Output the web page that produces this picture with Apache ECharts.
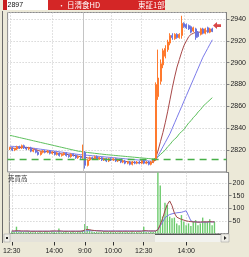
<!DOCTYPE html>
<html><head><meta charset="utf-8">
<script src="https://cdn.jsdelivr.net/npm/echarts@6/dist/echarts.min.js"></script>
<style>html,body{margin:0;padding:0;background:#ECE9D8;overflow:hidden}#c{width:249px;height:257px}</style>
</head><body><div id="c"></div><script>
// ---- axis categories (5-minute slots) ----
const tickIdx  = [1, 19, 32, 44, 57, 75];
const tickText = ['12:30', '14:00', '9:00', '10:00', '12:30', '14:00'];
const dayBreakIdx = 32;
const sessions = [['d1', 12*60+30, 15*60], ['d2', 9*60, 11*60], ['d2', 12*60+30, 15*60]];
const categories = ['p0'];
sessions.forEach(s => { for (let m = s[1]; m <= s[2]; m += 5) categories.push(s[0] + ' ' + Math.floor(m/60) + ':' + String(m%60).padStart(2,'0')); });
while (categories.length < 94) categories.push('p' + categories.length);

// ---- price candles, index 1..87 ----
const opens = [2821,2822,2820,2821,2823,2822,2824,2822,2821,2822,2819,2820,2818,2816,2818,2819,2818,2819,2817,2818,2816,2817,2815,2816,2817,2815,2814,2816,2815,2813,2814,
 2813,2818,2806,2811,2813,2812,2814,2812,2813,2811,2812,2810,2812,2811,2812,2810,2811,2809,2810,2808,2809,2807,2809,2808,2809,
 2808,2810,2808,2809,2807,2809,2811,2869,2883,2898,2906,2912,2918,2925,2922,2926,2923,2925,2936,2935,2934,2933,2929,2931,2928,2926,2931,2927,2932,2928,2931];
const closes = [2822,2820,2821,2823,2822,2824,2822,2821,2822,2819,2820,2818,2816,2818,2819,2818,2819,2817,2818,2816,2817,2815,2816,2817,2815,2814,2816,2815,2813,2814,2813,
 2818,2806,2811,2813,2812,2814,2812,2813,2811,2812,2810,2812,2811,2812,2810,2811,2809,2810,2808,2809,2807,2809,2808,2809,2808,
 2810,2808,2809,2807,2809,2811,2880,2886,2899,2911,2913,2919,2925,2923,2926,2923,2926,2936,2933,2932,2931,2928,2932,2923,2924,2931,2927,2931,2928,2931,2929];
const lows = [2820,2819,2819,2820,2821,2821,2821,2820,2820,2818,2818,2817,2815,2815,2817,2817,2817,2816,2816,2815,2815,2814,2814,2815,2814,2813,2813,2814,2812,2812,2812,
 2812,2803,2805,2810,2811,2811,2811,2811,2810,2810,2809,2809,2810,2810,2809,2809,2808,2808,2807,2807,2806,2806,2807,2807,2807,
 2807,2807,2807,2806,2806,2808,2810,2866,2880,2895,2904,2910,2916,2921,2921,2922,2922,2922,2932,2931,2930,2927,2928,2921,2923,2925,2926,2926,2927,2927,2928];
const highs = [2823,2823,2822,2824,2824,2825,2825,2823,2823,2823,2821,2821,2819,2819,2820,2820,2820,2820,2819,2819,2818,2818,2817,2818,2818,2816,2817,2817,2816,2815,2815,
 2825,2819,2812,2814,2814,2815,2815,2814,2814,2813,2813,2813,2813,2813,2813,2812,2812,2811,2811,2810,2810,2810,2810,2810,2810,
 2811,2811,2810,2810,2810,2812,2882,2912,2903,2913,2916,2921,2927,2927,2927,2927,2927,2943,2937,2936,2935,2934,2933,2932,2929,2932,2932,2932,2933,2932,2932];

// ---- moving-average lines, index 1..87 ----
const maShort = [2822,2821.8,2821.6,2821.7,2822,2822.4,2822.5,2822.3,2822,2821.5,2821,2820.4,2819.6,2819,2818.8,2818.6,2818.5,2818.3,2818,2817.6,2817.2,2816.8,2816.4,2816.3,2816.2,2815.7,2815.3,2815.2,2814.8,2814.4,2814,
 2814.2,2813.5,2812.8,2812.5,2812.4,2812.5,2812.6,2812.5,2812.3,2812,2811.6,2811.4,2811.3,2811.2,2811,2810.7,2810.3,2810,2809.6,2809.3,2809,2808.8,2808.7,2808.6,2808.5,
 2808.6,2808.6,2808.5,2808.4,2808.5,2809,2813,2820,2828,2836,2845,2855,2866,2877,2887,2896,2903,2910,2916,2920,2924,2926,2927,2928,2928,2928,2929,2929,2929,2929,2929];
const maMid = [2823.5,2823.4,2823.3,2823.2,2823,2822.8,2822.6,2822.4,2822.2,2822,2821.7,2821.4,2821.1,2820.8,2820.5,2820.2,2819.9,2819.6,2819.3,2819,2818.7,2818.4,2818.1,2817.8,2817.5,2817.2,2816.9,2816.6,2816.3,2816,2815.8,
 2815.6,2815.4,2815.2,2815,2814.8,2814.6,2814.4,2814.2,2814,2813.8,2813.6,2813.4,2813.2,2813,2812.8,2812.6,2812.4,2812.2,2812,2811.8,2811.6,2811.4,2811.2,2811,2810.8,
 2810.6,2810.4,2810.2,2810,2809.8,2809.8,2811,2815,2819,2823,2827,2831,2835,2840,2845,2850,2855,2860,2865,2870,2875,2880,2885,2890,2895,2900,2905,2909,2913,2917,2921];
const maLong = [2833.5,2833,2832.5,2832,2831.5,2831,2830.5,2830,2829.5,2829,2828.5,2828,2827.5,2827,2826.5,2826,2825.5,2825,2824.5,2824,2823.5,2823,2822.5,2822,2821.5,2821,2820.5,2820,2819.5,2819,2818.7,
 2818.3,2818,2817.8,2817.5,2817.3,2817,2816.8,2816.5,2816.3,2816,2815.8,2815.6,2815.4,2815.2,2815,2814.8,2814.6,2814.4,2814.2,2814,2813.8,2813.6,2813.4,2813.2,2813,
 2812.8,2812.6,2812.4,2812.2,2812,2812,2812.5,2814,2816,2818,2820,2823,2825,2828,2830,2832,2835,2837,2839,2842,2845,2847,2850,2852,2855,2857,2860,2862,2864,2866,2868];
const prevClose = 2811.5;
const lastPrice = 2934;
const lastPriceIdx = 89;

// ---- volume, index 1..87 ----
const volume = [8,6,27,7,6,6,5,8,6,5,7,5,6,5,9,6,5,8,6,5,20,5,6,8,5,6,7,5,8,6,12,
 38,30,15,8,6,7,5,6,8,5,6,7,5,6,5,7,6,5,6,5,7,5,6,5,6,
 27,6,5,7,6,10,300,190,67,122,113,67,60,63,40,33,73,47,33,40,30,47,53,33,40,63,47,47,56,33,47];
const volMaShort = [10,10,11,11,10,10,10,10,9,9,9,9,9,9,9,9,9,10,10,10,10,10,9,9,9,9,9,9,9,9,10,
 14,16,15,13,12,11,10,10,9,9,9,9,9,9,9,9,9,9,9,9,9,9,9,9,9,
 11,11,10,10,10,10,15,35,60,90,115,129,110,81,65,60,56,53,50,48,47,46,46,45,45,46,46,46,47,46,46];
const volMaLong = [9,9,9,9,9,9,9,9,9,9,9,9,9,9,9,9,9,9,9,9,9,9,9,9,9,9,9,9,9,9,9,
 10,11,11,11,11,11,11,11,10,10,10,10,10,10,10,10,10,10,10,10,10,10,10,10,10,
 10,10,10,10,10,10,15,30,45,62,70,75,78,80,82,83,84,87,90,70,50,47,46,45,45,45,45,45,46,46,46];

function pad(arr){ const out=['-']; arr.forEach(v=>out.push(v)); while(out.length<94) out.push('-'); return out; }
const candleData = ['-'];
for (let i = 0; i < opens.length; i++) candleData.push([opens[i], closes[i], lows[i], highs[i]]);
while (candleData.length < 94) candleData.push('-');

const FONT = 'Liberation Sans';
const gridLine = {show:true, lineStyle:{color:'#C4C4C4', type:[1,2], width:1}};
function xAxisCfg(gi, showLabels){
  return {
    type:'category', gridIndex:gi, data:categories, boundaryGap:false,
    axisLine:{show:false},
    axisTick:{show:showLabels, interval:(i)=>tickIdx.includes(i), length:12, lineStyle:{color:'#333'}},
    axisLabel:{show:showLabels, interval:(i)=>tickIdx.includes(i), margin:14, fontSize:7, fontFamily:FONT, color:'#222',
      formatter:(v,i)=>{const k=tickIdx.indexOf(i); return k>=0?tickText[k]:'';}},
    splitLine:{show:true, interval:(i)=>tickIdx.includes(i) && i!==dayBreakIdx, lineStyle:{color:'#C4C4C4', type:[1,2]}}
  };
}
function dayLine(){ return {silent:true, symbol:'none', label:{show:false}, animation:false,
  itemStyle:{color:'#C4C4C4'}, lineStyle:{color:'#C4C4C4', type:'solid', width:1, opacity:1}, emphasis:{disabled:true},
  data:[{xAxis:dayBreakIdx, lineStyle:{color:'#C4C4C4'}}]}; }

const chart = echarts.init(document.getElementById('c'), null, {renderer:'canvas'});
chart.setOption({
  animation:false,
  backgroundColor:'#ECE9D8',
  grid:[
    {left:7.6, top:12.5, width:221, height:159.4, show:true, backgroundColor:'#fff', borderColor:'#8C8C8C', borderWidth:1},
    {left:7.6, top:172.5, width:221, height:61, show:true, backgroundColor:'#fff', borderColor:'#8C8C8C', borderWidth:1}
  ],
  xAxis:[xAxisCfg(0,false), xAxisCfg(1,true)],
  yAxis:[
    {type:'value', gridIndex:0, position:'right', min:2800, max:2946, interval:20,
     axisLine:{show:true, lineStyle:{color:'#808080'}}, axisTick:{show:true, length:3, lineStyle:{color:'#808080'}},
     axisLabel:{fontSize:7, fontFamily:FONT, color:'#222', margin:4, showMinLabel:false, showMaxLabel:false, formatter:(v)=>String(v)},
     splitLine:gridLine},
    {type:'value', gridIndex:1, position:'right', min:0, max:241.6, interval:50,
     axisLine:{show:true, lineStyle:{color:'#808080'}}, axisTick:{show:true, length:3, lineStyle:{color:'#808080'}},
     axisLabel:{fontSize:7, fontFamily:FONT, color:'#222', margin:4, showMinLabel:false, showMaxLabel:false, formatter:(v)=>String(v)},
     splitLine:gridLine}
  ],
  series:[
    {type:'line', xAxisIndex:0, yAxisIndex:0, data:pad(maLong), symbol:'none', lineStyle:{color:'#5DC05D', width:1}, z:3},
    {type:'line', xAxisIndex:0, yAxisIndex:0, data:pad(maMid), symbol:'none', lineStyle:{color:'#7B7BEA', width:1}, markLine:dayLine(), z:3},
    {type:'line', xAxisIndex:0, yAxisIndex:0, data:pad(maShort), symbol:'none', lineStyle:{color:'#A84848', width:1}, z:3},
    {type:'candlestick', xAxisIndex:0, yAxisIndex:0, data:candleData, barWidth:1.5,
     itemStyle:{color:'#FF7A2E', color0:'#6A74DE', borderColor:'#FF7A2E', borderColor0:'#6A74DE', borderWidth:1}, z:4,
     markLine:{silent:true, symbol:'none', label:{show:false}, animation:false, emphasis:{disabled:true},
       itemStyle:{color:'#48B048'}, lineStyle:{color:'#48B048', type:[7,5], width:1.3, opacity:1},
       data:[{yAxis:prevClose, lineStyle:{color:'#48B048'}}]}},
    {type:'scatter', xAxisIndex:0, yAxisIndex:0, data:[[lastPriceIdx, lastPrice]],
     symbol:'path://M0,5 L5,0 L5,3 L10,3 L10,7 L5,7 L5,10 Z', symbolSize:[8,7], itemStyle:{color:'#D01818'}, z:5},
    {type:'bar', xAxisIndex:1, yAxisIndex:1, data:pad(volume), barWidth:1.4, itemStyle:{color:'#6CCB6C'}, markLine:dayLine(), z:2},
    {type:'line', xAxisIndex:1, yAxisIndex:1, data:pad(volMaLong), symbol:'none', lineStyle:{color:'#7878E6', width:1}, z:3},
    {type:'line', xAxisIndex:1, yAxisIndex:1, data:pad(volMaShort), symbol:'none', lineStyle:{color:'#A04848', width:1}, z:3}
  ],
  graphic:[
    {type:'rect', z:100, shape:{x:3, y:0, width:5, height:10}, style:{fill:'#C81E1E'}},
    {type:'rect', z:100, shape:{x:7, y:0, width:41, height:10}, style:{fill:'#fff'}},
    {type:'text', z:101, style:{x:7.5, y:5, text:'2897', fontSize:7, fontFamily:FONT, fill:'#111', verticalAlign:'middle'}},
    {type:'rect', z:100, shape:{x:48, y:0, width:117, height:10}, style:{fill:'#D42626'}},
    {type:'text', z:101, style:{x:58, y:5, text:'・', fontSize:7, fontFamily:'Noto Sans CJK JP', fill:'#fff', verticalAlign:'middle'}},
    {type:'text', z:101, style:{x:67, y:5, text:'日清食HD', fontSize:7.5, fontFamily:'Noto Sans CJK JP', fill:'#fff', verticalAlign:'middle'}},
    {type:'text', z:101, style:{x:138, y:5, text:'東証1部', fontSize:7.5, fontFamily:'Noto Sans CJK JP', fill:'#fff', verticalAlign:'middle'}},
    {type:'rect', z:100, shape:{x:2, y:11, width:1, height:232}, style:{fill:'#6A6A6A'}},
    {type:'text', z:101, style:{x:8, y:179, text:'売買高', fontSize:6.5, fontFamily:'Noto Sans CJK JP', fill:'#333', verticalAlign:'middle'}},
    {type:'rect', z:100, shape:{x:4, y:234, width:225, height:8}, style:{fill:'#E4E2DA'}},
    {type:'rect', z:100, shape:{x:155, y:234, width:66, height:8}, style:{fill:'#F2F2EE'}},
    {type:'rect', z:101, shape:{x:155, y:234, width:66, height:1}, style:{fill:'#555'}},
    {type:'rect', z:101, shape:{x:4, y:234, width:6, height:8}, style:{fill:'#EEEDE6', stroke:'#9A9A9A', lineWidth:0.5}},
    {type:'rect', z:102, shape:{x:6, y:237, width:2, height:2}, style:{fill:'#222'}},
    {type:'rect', z:101, shape:{x:221, y:234, width:8, height:8}, style:{fill:'#EEEDE6', stroke:'#9A9A9A', lineWidth:0.5}},
    {type:'polygon', z:102, shape:{points:[[224,236],[224,240],[226.5,238]]}, style:{fill:'#222'}}
  ]
});
</script></body></html>
